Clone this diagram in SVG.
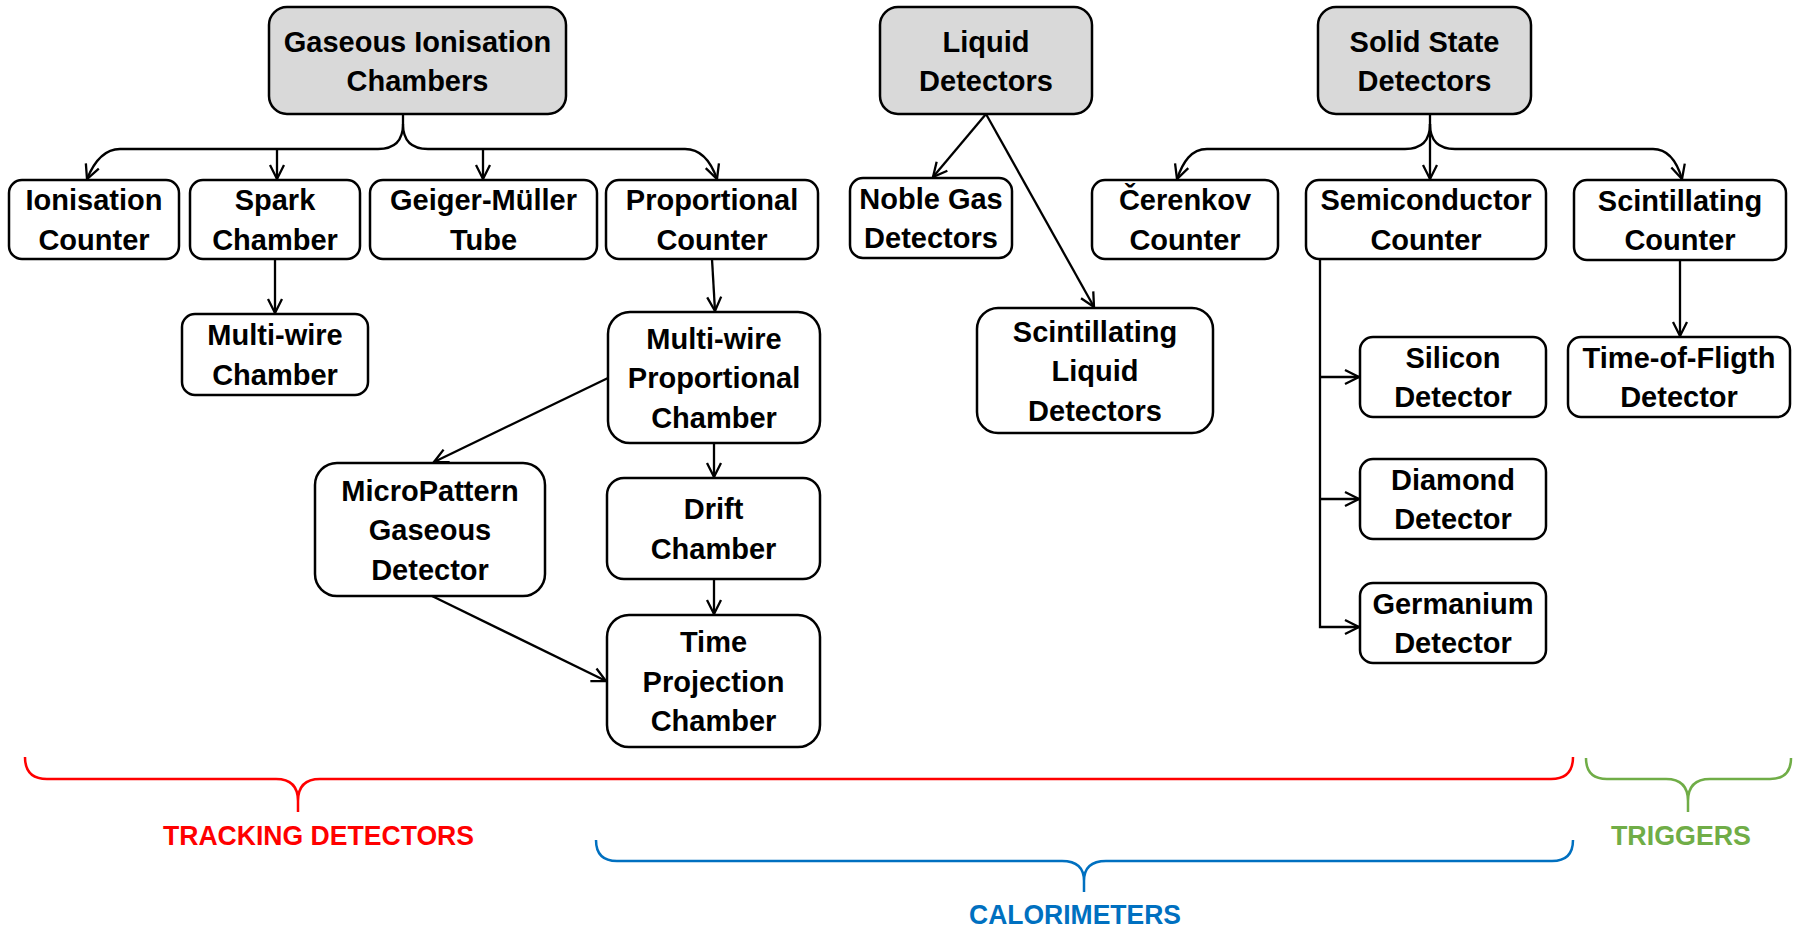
<svg xmlns="http://www.w3.org/2000/svg" width="1798" height="929" viewBox="0 0 1798 929">
<style>
.box{fill:#fff;stroke:#000;stroke-width:2.5}
.top{fill:#D9D9D9;stroke:#000;stroke-width:2.5}
.t{font-family:"Liberation Sans",Arial,sans-serif;font-weight:bold;font-size:29px;fill:#000;text-anchor:middle}
.c{fill:none;stroke:#000;stroke-width:2.3}
.br{fill:none;stroke-width:2.5}
.lbl{font-family:"Liberation Sans",Arial,sans-serif;font-weight:bold;font-size:27px;text-anchor:middle}
</style>
<defs>
<marker id="ah" markerUnits="userSpaceOnUse" markerWidth="20" markerHeight="20" refX="0" refY="0" orient="auto" overflow="visible">
<path d="M-14,-7 L0,0 L-14,7" fill="none" stroke="#000" stroke-width="2.3"/>
</marker>
</defs>
<rect width="1798" height="929" fill="#fff"/>

<g id="connectors">
<path class="c" d="M403,114 V124 Q403,149 378,149 H120 C104,149 94,162 87,179" marker-end="url(#ah)"/>
<path class="c" d="M403,124 Q403,149 428,149 H685 C701,149 711,162 717,179" marker-end="url(#ah)"/>
<path class="c" d="M277,149 V179" marker-end="url(#ah)"/>
<path class="c" d="M483,149 V179" marker-end="url(#ah)"/>
<path class="c" d="M275,259 V313" marker-end="url(#ah)"/>
<path class="c" d="M712,259 L715,311" marker-end="url(#ah)"/>
<path class="c" d="M608,378 L434,462" marker-end="url(#ah)"/>
<path class="c" d="M714,443 V477" marker-end="url(#ah)"/>
<path class="c" d="M714,579 V614" marker-end="url(#ah)"/>
<path class="c" d="M432,596 L606,681" marker-end="url(#ah)"/>
<path class="c" d="M986,114 L933,177" marker-end="url(#ah)"/>
<path class="c" d="M986,114 L1094,307" marker-end="url(#ah)"/>
<path class="c" d="M1430,114 V124 Q1430,149 1405,149 H1207 C1191,149 1183,162 1177,179" marker-end="url(#ah)"/>
<path class="c" d="M1430,124 Q1430,149 1455,149 H1653 C1669,149 1677,162 1682,179" marker-end="url(#ah)"/>
<path class="c" d="M1430,124 V179" marker-end="url(#ah)"/>
<path class="c" d="M1320,259 V627 H1359" marker-end="url(#ah)"/>
<path class="c" d="M1320,377 H1359" marker-end="url(#ah)"/>
<path class="c" d="M1320,499 H1359" marker-end="url(#ah)"/>
<path class="c" d="M1680,260 V336" marker-end="url(#ah)"/>
</g>

<g id="gaseous"><rect class="top" x="269" y="7" width="297" height="107" rx="18"/><text class="t"><tspan x="417.5" y="51.5">Gaseous Ionisation</tspan><tspan x="417.5" y="91">Chambers</tspan></text></g>
<g id="liquid"><rect class="top" x="880" y="7" width="212" height="107" rx="18"/><text class="t"><tspan x="986" y="51.5">Liquid</tspan><tspan x="986" y="91">Detectors</tspan></text></g>
<g id="solid"><rect class="top" x="1318" y="7" width="213" height="107" rx="18"/><text class="t"><tspan x="1424.5" y="51.5">Solid State</tspan><tspan x="1424.5" y="91">Detectors</tspan></text></g>

<g id="ionisation"><rect class="box" x="9" y="180" width="170" height="79" rx="13"/><text class="t"><tspan x="94" y="210">Ionisation</tspan><tspan x="94" y="249.5">Counter</tspan></text></g>
<g id="spark"><rect class="box" x="190" y="180" width="170" height="79" rx="13"/><text class="t"><tspan x="275" y="210">Spark</tspan><tspan x="275" y="249.5">Chamber</tspan></text></g>
<g id="geiger"><rect class="box" x="370" y="180" width="227" height="79" rx="13"/><text class="t"><tspan x="483.5" y="210">Geiger-Müller</tspan><tspan x="483.5" y="249.5">Tube</tspan></text></g>
<g id="proportional"><rect class="box" x="606" y="180" width="212" height="79" rx="13"/><text class="t"><tspan x="712" y="210">Proportional</tspan><tspan x="712" y="249.5">Counter</tspan></text></g>
<g id="noble"><rect class="box" x="850" y="178" width="162" height="80" rx="13"/><text class="t"><tspan x="931" y="208.5">Noble Gas</tspan><tspan x="931" y="248">Detectors</tspan></text></g>
<g id="cerenkov"><rect class="box" x="1092" y="180" width="186" height="79" rx="13"/><text class="t"><tspan x="1185" y="210">Čerenkov</tspan><tspan x="1185" y="249.5">Counter</tspan></text></g>
<g id="semiconductor"><rect class="box" x="1306" y="180" width="240" height="79" rx="13"/><text class="t"><tspan x="1426" y="210">Semiconductor</tspan><tspan x="1426" y="249.5">Counter</tspan></text></g>
<g id="scintcounter"><rect class="box" x="1574" y="180" width="212" height="80" rx="13"/><text class="t"><tspan x="1680" y="210.5">Scintillating</tspan><tspan x="1680" y="250">Counter</tspan></text></g>

<g id="multiwire"><rect class="box" x="182" y="314" width="186" height="81" rx="13"/><text class="t"><tspan x="275" y="345">Multi-wire</tspan><tspan x="275" y="384.5">Chamber</tspan></text></g>
<g id="mwpc"><rect class="box" x="608" y="312" width="212" height="131" rx="22"/><text class="t"><tspan x="714" y="348.5">Multi-wire</tspan><tspan x="714" y="388">Proportional</tspan><tspan x="714" y="427.5">Chamber</tspan></text></g>
<g id="scintliquid"><rect class="box" x="977" y="308" width="236" height="125" rx="21"/><text class="t"><tspan x="1095" y="341.5">Scintillating</tspan><tspan x="1095" y="381">Liquid</tspan><tspan x="1095" y="420.5">Detectors</tspan></text></g>
<g id="silicon"><rect class="box" x="1360" y="337" width="186" height="80" rx="13"/><text class="t"><tspan x="1453" y="367.5">Silicon</tspan><tspan x="1453" y="407">Detector</tspan></text></g>
<g id="tof"><rect class="box" x="1568" y="337" width="222" height="80" rx="13"/><text class="t"><tspan x="1679" y="367.5">Time-of-Fligth</tspan><tspan x="1679" y="407">Detector</tspan></text></g>
<g id="micropattern"><rect class="box" x="315" y="463" width="230" height="133" rx="22"/><text class="t"><tspan x="430" y="500.5">MicroPattern</tspan><tspan x="430" y="540">Gaseous</tspan><tspan x="430" y="579.5">Detector</tspan></text></g>
<g id="drift"><rect class="box" x="607" y="478" width="213" height="101" rx="17"/><text class="t"><tspan x="713.5" y="519">Drift</tspan><tspan x="713.5" y="558.5">Chamber</tspan></text></g>
<g id="diamond"><rect class="box" x="1360" y="459" width="186" height="80" rx="13"/><text class="t"><tspan x="1453" y="489.5">Diamond</tspan><tspan x="1453" y="529">Detector</tspan></text></g>
<g id="tpc"><rect class="box" x="607" y="615" width="213" height="132" rx="22"/><text class="t"><tspan x="713.5" y="652">Time</tspan><tspan x="713.5" y="691.5">Projection</tspan><tspan x="713.5" y="731">Chamber</tspan></text></g>
<g id="germanium"><rect class="box" x="1360" y="583" width="186" height="80" rx="13"/><text class="t"><tspan x="1453" y="613.5">Germanium</tspan><tspan x="1453" y="653">Detector</tspan></text></g>

<g id="tracking">
<path class="br" stroke="#FF0000" d="M25,757 Q25,779 47,779 H276 Q298,779 298,801 V812 M1573,757 Q1573,779 1551,779 H320 Q298,779 298,801"/>
<text class="lbl" fill="#FF0000" x="318.5" y="845" textLength="311" lengthAdjust="spacingAndGlyphs">TRACKING DETECTORS</text>
</g>
<g id="calorimeters">
<path class="br" stroke="#0070C0" d="M596,840 Q596,861 617,861 H1062 Q1084,861 1084,881 V892 M1573,840 Q1573,861 1552,861 H1106 Q1084,861 1084,881"/>
<text class="lbl" fill="#0070C0" x="1075" y="924" textLength="212" lengthAdjust="spacingAndGlyphs">CALORIMETERS</text>
</g>
<g id="triggers">
<path class="br" stroke="#70AD47" d="M1586,758 Q1586,779 1607,779 H1666 Q1688,779 1688,801 V812 M1791,758 Q1791,779 1770,779 H1710 Q1688,779 1688,801"/>
<text class="lbl" fill="#70AD47" x="1681" y="845" textLength="140" lengthAdjust="spacingAndGlyphs">TRIGGERS</text>
</g>
</svg>
